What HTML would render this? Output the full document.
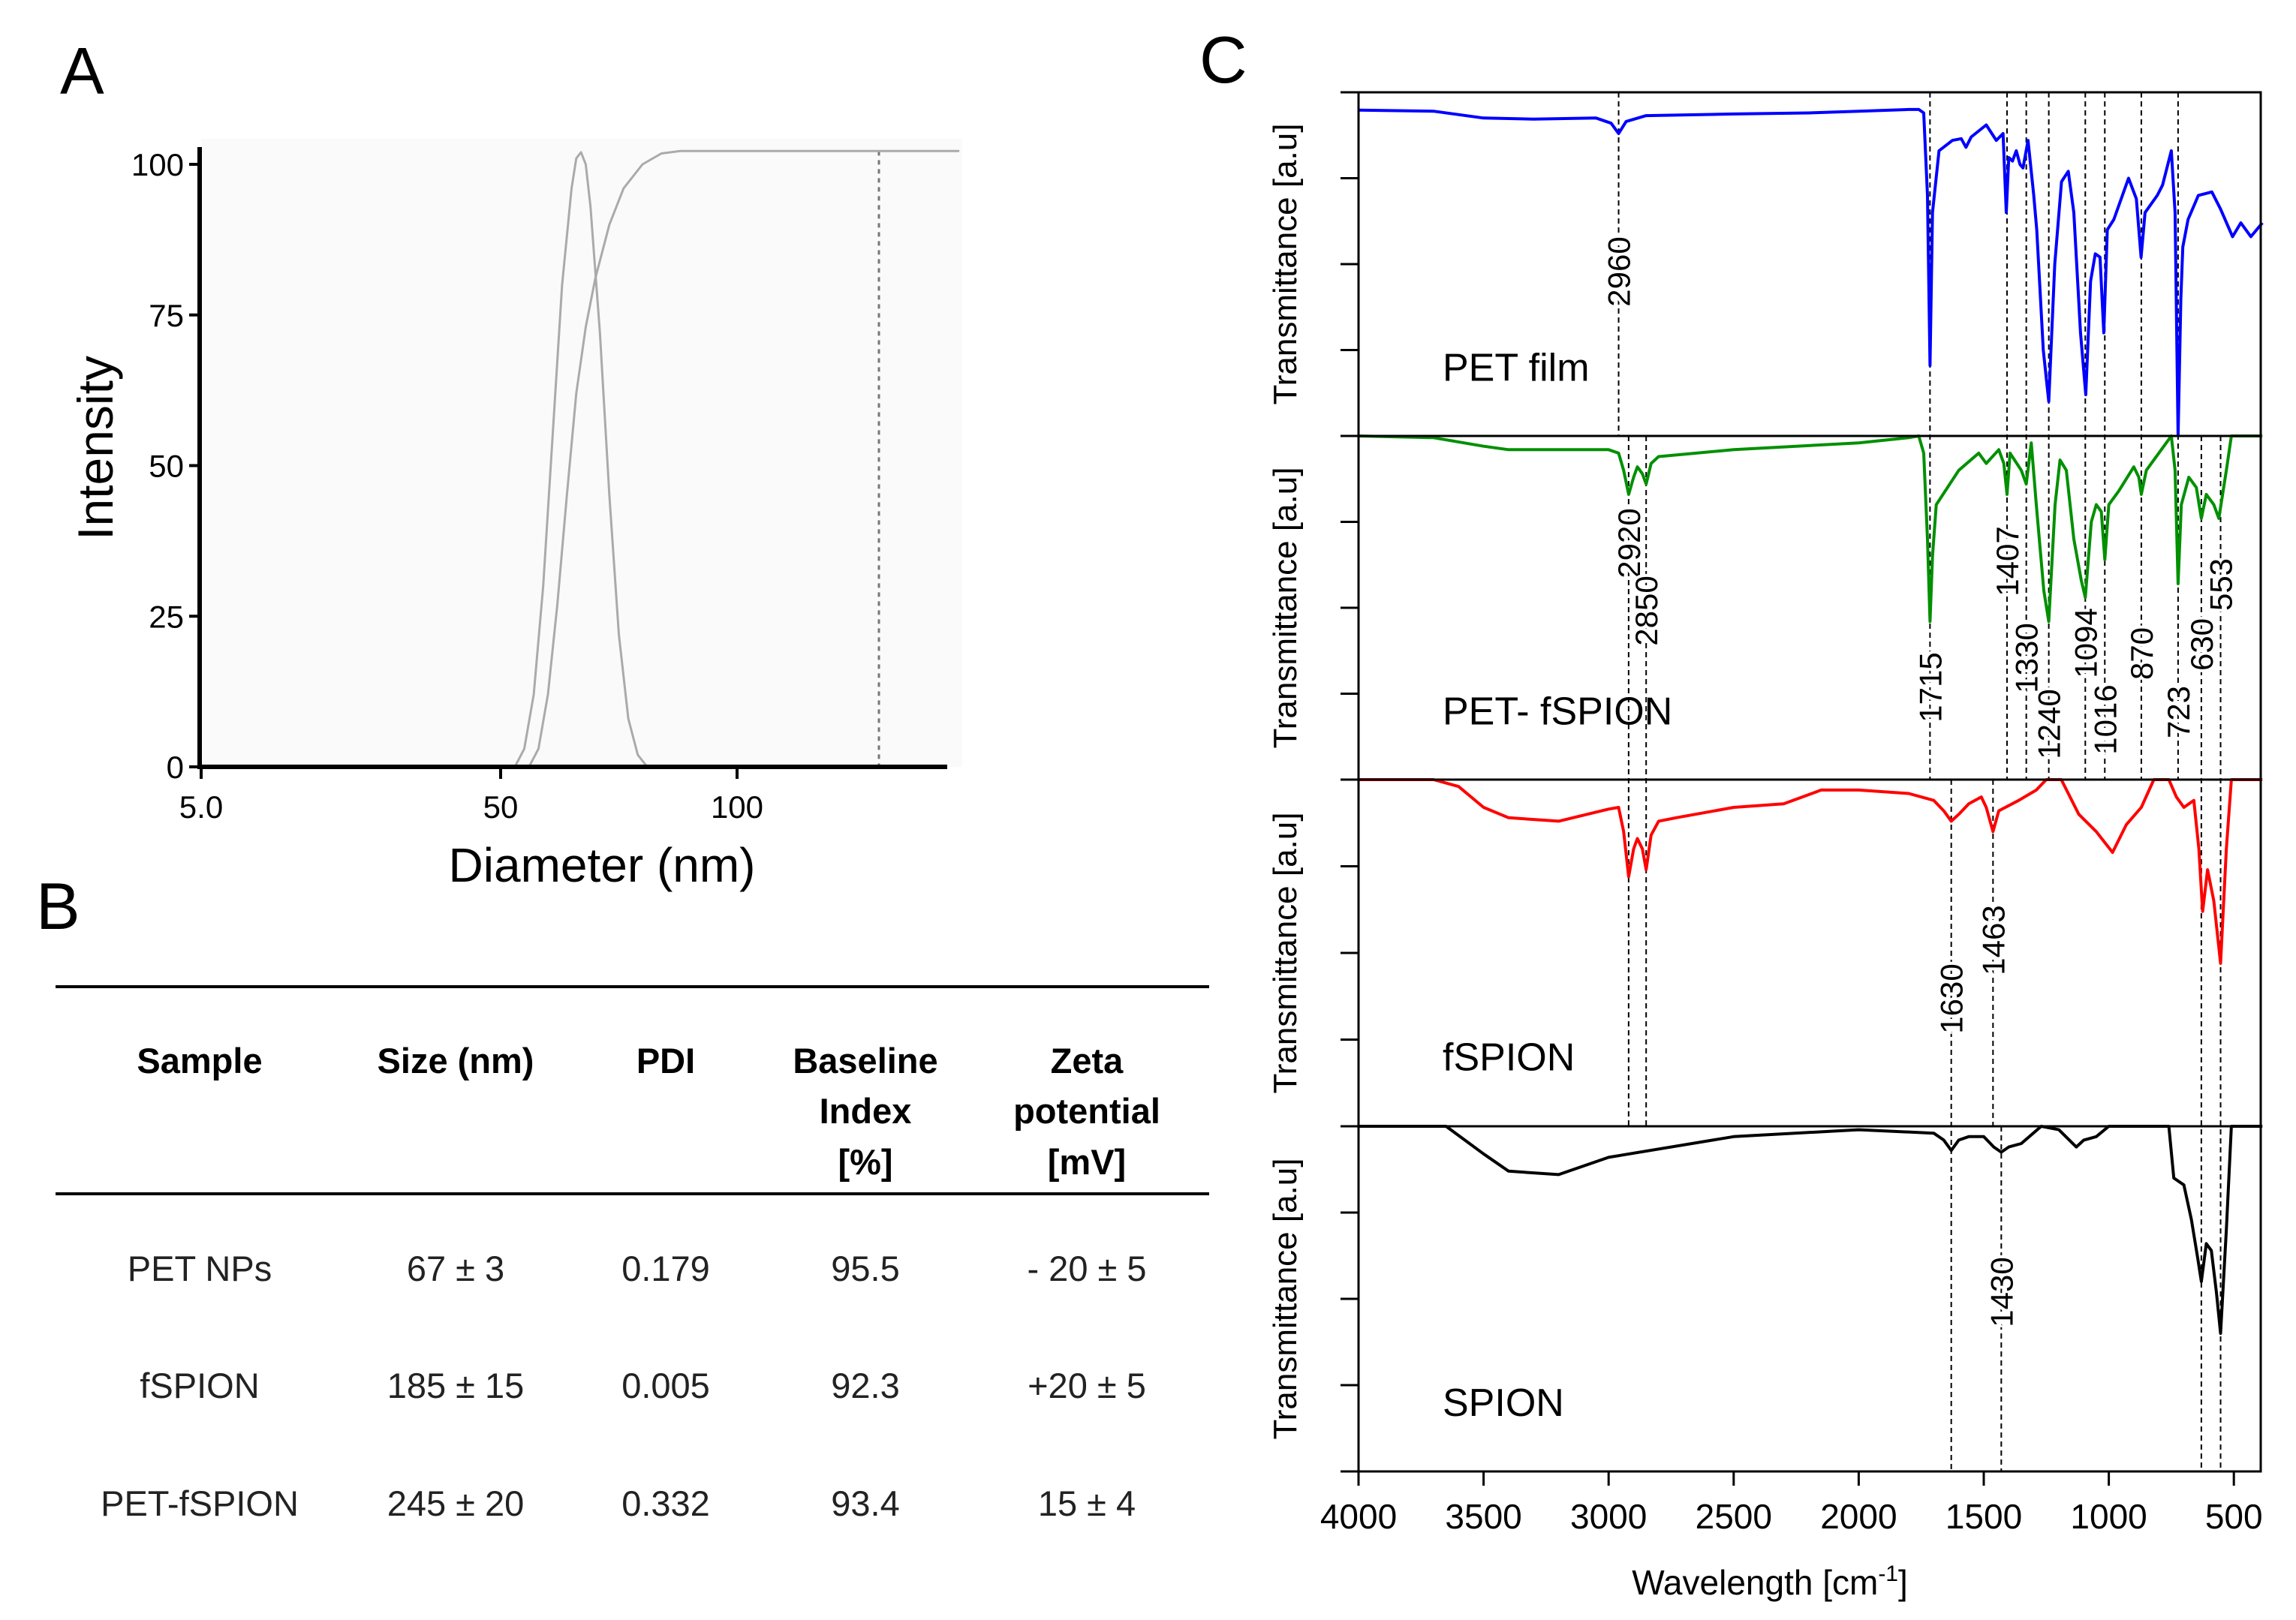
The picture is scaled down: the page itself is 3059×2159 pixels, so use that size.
<!DOCTYPE html>
<html><head><meta charset="utf-8"><style>
html,body{margin:0;padding:0;background:#fff}
svg{display:block}
text{font-family:"Liberation Sans",Arial,sans-serif}
</style></head><body>
<svg id="fig" width="3059" height="2159" viewBox="0 0 3059 2159" xmlns="http://www.w3.org/2000/svg">
<text x="80" y="125" font-size="88">A</text>
<text x="48" y="1238" font-size="88">B</text>
<text x="1598" y="110" font-size="88">C</text>
<g id="gA"></g>
<g id="gB">
<line x1="74" y1="1315" x2="1611" y2="1315" stroke="#000" stroke-width="4"/>
<line x1="74" y1="1591" x2="1611" y2="1591" stroke="#000" stroke-width="4"/>
<g font-size="47" font-weight="bold" text-anchor="middle">
<text x="266" y="1430">Sample</text>
<text x="607" y="1430">Size (nm)</text>
<text x="887" y="1430">PDI</text>
<text x="1153" y="1430">Baseline</text>
<text x="1153" y="1497">Index</text>
<text x="1153" y="1565">[%]</text>
<text x="1448" y="1430">Zeta</text>
<text x="1448" y="1497">potential</text>
<text x="1448" y="1565">[mV]</text>
</g>
<g font-size="47" text-anchor="middle" fill="#222">
<text x="266" y="1707">PET NPs</text>
<text x="607" y="1707">67 ± 3</text>
<text x="887" y="1707">0.179</text>
<text x="1153" y="1707">95.5</text>
<text x="1448" y="1707">- 20 ± 5</text>
<text x="266" y="1863">fSPION</text>
<text x="607" y="1863">185 ± 15</text>
<text x="887" y="1863">0.005</text>
<text x="1153" y="1863">92.3</text>
<text x="1448" y="1863">+20 ± 5</text>
<text x="266" y="2020">PET-fSPION</text>
<text x="607" y="2020">245 ± 20</text>
<text x="887" y="2020">0.332</text>
<text x="1153" y="2020">93.4</text>
<text x="1448" y="2020">15 ± 4</text>
</g>
</g>
<g id="gC"></g>
</svg>
<script>
// ---------- Panel A data ----------
const aTickVals = [5, 50, 100];
const aTickLabels = ["5.0", "50", "100"];
const aYTicks = [0, 25, 50, 75, 100];
const aPeakX = [53, 55, 57, 59, 61, 63, 65, 66, 67, 68, 69, 71, 73, 75, 77, 79, 81];
const aPeakY = [0, 3, 12, 30, 55, 80, 96, 101, 102, 100, 93, 72, 45, 22, 8, 2, 0];
const aCumX = [56, 58, 60, 62, 64, 66, 68, 70, 73, 76, 80, 84, 88, 147];
const aCumY = [0, 3, 12, 27, 45, 62, 73, 81, 90, 96, 100, 101.8, 102.2, 102.2];
const aMarker = 130;

// ---------- Panel C data ----------
const cXTicks = [4000, 3500, 3000, 2500, 2000, 1500, 1000, 500];
const cSamples = ["PET film", "PET- fSPION", "fSPION", "SPION"];
const cColors = ["#0000ff", "#009000", "#ff0000", "#000000"];
const blueW = [4000,3700,3500,3300,3050,2990,2960,2930,2850,2500,2200,2000,1800,1760,1740,1725,1715,1705,1679,1625,1590,1571,1550,1490,1450,1423,1410,1400,1385,1370,1355,1343,1323,1300,1288,1262,1240,1216,1189,1162,1140,1113,1092,1073,1054,1035,1020,1006,980,921,890,871,855,806,785,750,735,723,712,704,683,642,588,553,505,472,432,386];
const blueV = [0.052,0.055,0.075,0.078,0.075,0.09,0.12,0.085,0.068,0.063,0.06,0.055,0.05,0.05,0.06,0.3,0.795,0.35,0.17,0.14,0.135,0.16,0.13,0.095,0.14,0.12,0.35,0.19,0.2,0.17,0.21,0.22,0.14,0.3,0.4,0.75,0.9,0.5,0.26,0.23,0.35,0.7,0.88,0.55,0.47,0.48,0.7,0.4,0.37,0.25,0.31,0.48,0.35,0.3,0.27,0.17,0.35,1.0,0.6,0.45,0.37,0.3,0.29,0.34,0.42,0.38,0.42,0.38];
const greenW = [4000,3700,3500,3400,3000,2960,2940,2920,2900,2885,2865,2850,2830,2800,2500,2000,1800,1760,1740,1725,1715,1705,1690,1600,1520,1490,1440,1420,1407,1395,1350,1330,1310,1290,1260,1240,1215,1195,1170,1140,1110,1094,1070,1050,1030,1016,1000,960,900,880,870,850,780,750,735,723,710,680,650,630,610,580,560,530,510,386];
const greenV = [0,0.005,0.03,0.04,0.04,0.05,0.1,0.17,0.12,0.09,0.11,0.14,0.08,0.06,0.04,0.02,0.005,0,0.05,0.3,0.54,0.35,0.2,0.1,0.05,0.08,0.04,0.08,0.17,0.05,0.1,0.14,0.02,0.2,0.45,0.54,0.2,0.07,0.1,0.3,0.42,0.47,0.25,0.2,0.22,0.36,0.2,0.16,0.09,0.12,0.17,0.1,0.03,0,0.1,0.43,0.2,0.12,0.15,0.24,0.17,0.2,0.24,0.1,0,0];
const redW = [4000,3700,3600,3500,3400,3200,3000,2960,2940,2920,2900,2885,2865,2850,2830,2800,2730,2500,2300,2150,2000,1800,1700,1660,1630,1600,1560,1510,1490,1463,1440,1360,1290,1250,1190,1120,1050,985,930,870,820,760,730,700,660,640,625,605,580,553,530,510,386];
const redV = [0,0,0.02,0.08,0.11,0.12,0.085,0.08,0.15,0.28,0.2,0.17,0.2,0.26,0.16,0.12,0.11,0.08,0.07,0.03,0.03,0.04,0.06,0.09,0.12,0.1,0.07,0.05,0.08,0.15,0.09,0.06,0.03,0,0,0.1,0.15,0.21,0.13,0.08,0,0,0.05,0.08,0.06,0.2,0.38,0.26,0.35,0.53,0.2,0,0];
const blackW = [4000,3650,3500,3400,3200,3000,2500,2000,1700,1660,1630,1600,1560,1500,1460,1430,1400,1350,1270,1200,1130,1100,1050,1000,800,760,740,700,670,645,630,610,590,570,553,530,510,386];
const blackV = [0,0,0.08,0.13,0.14,0.09,0.03,0.01,0.02,0.04,0.07,0.04,0.03,0.03,0.06,0.075,0.06,0.05,0,0.01,0.06,0.04,0.03,0,0,0,0.15,0.17,0.27,0.38,0.45,0.34,0.36,0.48,0.6,0.3,0,0];
const cSeriesW = [blueW, greenW, redW, blackW];
const cSeriesV = [blueV, greenV, redV, blackV];
const peakWn = [2960,1715,1407,1330,1240,1094,1016,870,723,2920,2850,630,553,1630,1463,1430];
const peakLabels = ["2960","1715","1407","1330","1240","1094","1016","870","723","2920","2850","630","553","1630","1463","1430"];
const peakFirstPanel = [0,0,0,0,0,0,0,0,0,1,1,1,1,2,2,3];
const peakLastPanel = [0,1,1,1,1,1,1,1,1,2,2,3,3,3,2,3];
const peakLabelY = [362,916,748,877,965,857,959,871,949,724,814,859,779,1331,1253,1722];

const NS = "http://www.w3.org/2000/svg";
function mk(parent, tag, attrs, txt) {
  const e = document.createElementNS(NS, tag);
  for (const k in attrs) e.setAttribute(k, attrs[k]);
  if (txt !== undefined) e.textContent = txt;
  parent.appendChild(e);
  return e;
}

// ----- Panel A -----
const gA = document.getElementById('gA');
const aTickPx = [268, 667, 982];
function xA(v) {
  for (let i = 0; i < aTickVals.length - 1; i++) {
    if (v <= aTickVals[i + 1] || i === aTickVals.length - 2) {
      const t = (v - aTickVals[i]) / (aTickVals[i + 1] - aTickVals[i]);
      return aTickPx[i] + t * (aTickPx[i + 1] - aTickPx[i]);
    }
  }
}
function yA(v) { return 1022 - v * (1022 - 219) / 100; }
let el = mk(gA, 'rect', {x: 268, y: 185, width: 1014, height: 837, fill: '#fafafa'});


el = mk(gA, 'line', {x1: xA(aMarker), y1: yA(102.2), x2: xA(aMarker), y2: 1022, stroke: '#777', 'stroke-width': 3, 'stroke-dasharray': '6,6'});


let d = aPeakX.map((x, i) => (i ? 'L' : 'M') + xA(x).toFixed(1) + ',' + yA(aPeakY[i]).toFixed(1)).join('');
el = mk(gA, 'path', {d: d, fill: 'none', stroke: '#aaa', 'stroke-width': 3, 'stroke-linejoin': 'round'});


d = aCumX.map((x, i) => (i ? 'L' : 'M') + xA(x).toFixed(1) + ',' + yA(aCumY[i]).toFixed(1)).join('');
el = mk(gA, 'path', {d: d, fill: 'none', stroke: '#aaa', 'stroke-width': 3, 'stroke-linejoin': 'round'});


el = mk(gA, 'line', {x1: 266, y1: 196, x2: 266, y2: 1025, stroke: '#000', 'stroke-width': 6});


el = mk(gA, 'line', {x1: 263, y1: 1022, x2: 1262, y2: 1022, stroke: '#000', 'stroke-width': 6});


aYTicks.forEach(v => {
  const t = mk(gA, 'line', {x1: 252, y1: yA(v), x2: 266, y2: yA(v), stroke: '#000', 'stroke-width': 4});
  
  
  const l = mk(gA, 'text', {x: 245, y: yA(v) + 15, 'font-size': 42, 'text-anchor': 'end'}, String(v));
  
  
});
aTickVals.forEach((v, i) => {
  const t = mk(gA, 'line', {x1: xA(v), y1: 1022, x2: xA(v), y2: 1038, stroke: '#000', 'stroke-width': 4});
  
  
  const l = mk(gA, 'text', {x: xA(v), y: 1090, 'font-size': 42, 'text-anchor': 'middle'}, aTickLabels[i]);
  
  
});
el = mk(gA, 'text', {x: 802, y: 1175, 'font-size': 64, 'text-anchor': 'middle'}, 'Diameter (nm)');


el = mk(gA, 'text', {x: 0, y: 0, 'font-size': 66, 'text-anchor': 'middle', transform: 'translate(150,597) rotate(-90)'}, 'Intensity');



// ----- Panel C -----
const gC = document.getElementById('gC');
const cLeft = 1810, cRight = 3012;
const pTop = [123, 581, 1039, 1501], pBot = [581, 1039, 1501, 1961];
function xC(w) { return cLeft + (4000 - w) * (166.6 / 500); }
function yC(p, v) { return pTop[p] + v * (pBot[p] - pTop[p]); }
peakWn.forEach((w, i) => {
  const ln = mk(gC, 'line', {x1: xC(w), y1: pTop[peakFirstPanel[i]], x2: xC(w), y2: pBot[peakLastPanel[i]], stroke: '#000', 'stroke-width': 2, 'stroke-dasharray': '7,5'});
  
  
});
cSeriesW.forEach((ws, p) => {
  const vs = cSeriesV[p];
  const dd = ws.map((w, i) => (i ? 'L' : 'M') + xC(w).toFixed(1) + ',' + yC(p, vs[i]).toFixed(1)).join('');
  const s = mk(gC, 'path', {d: dd, fill: 'none', stroke: cColors[p], 'stroke-width': 4, 'stroke-linejoin': 'round'});
  
  
  const lb = mk(gC, 'text', {x: 1922, y: yC(p, 0.8) + 18, 'font-size': 52}, cSamples[p]);
  
  
  const yt = mk(gC, 'text', {x: 0, y: 0, 'font-size': 44, 'text-anchor': 'middle', transform: 'translate(1727,' + ((pTop[p] + pBot[p]) / 2) + ') rotate(-90)'}, 'Transmittance [a.u]');
  
  
  for (let k = 0; k <= 4; k++) {
    const ty = pTop[p] + k * (pBot[p] - pTop[p]) / 4;
    const tk = mk(gC, 'line', {x1: 1786, y1: ty, x2: cLeft, y2: ty, stroke: '#000', 'stroke-width': 3});
    
    
  }
  if (p > 0) {
    const sep = mk(gC, 'line', {x1: cLeft, y1: pTop[p], x2: cRight, y2: pTop[p], stroke: '#000', 'stroke-width': 3});
    
    
  }
});
peakWn.forEach((w, i) => {
  const t = mk(gC, 'text', {x: 0, y: 0, 'font-size': 42, 'text-anchor': 'middle', stroke: '#fff', 'stroke-width': 8, 'paint-order': 'stroke', transform: 'translate(' + (xC(w) + 15) + ',' + peakLabelY[i] + ') rotate(-90)'}, peakLabels[i]);
  
  
});
el = mk(gC, 'rect', {x: cLeft, y: 123, width: cRight - cLeft, height: 1961 - 123, fill: 'none', stroke: '#000', 'stroke-width': 3});


cXTicks.forEach(w => {
  const t = mk(gC, 'line', {x1: xC(w), y1: 1961, x2: xC(w), y2: 1980, stroke: '#000', 'stroke-width': 3});
  
  
  const l = mk(gC, 'text', {x: xC(w), y: 2037, 'font-size': 46, 'text-anchor': 'middle'}, String(w));
  
  
});
el = mk(gC, 'text', {x: 2358, y: 2125, 'font-size': 46, 'text-anchor': 'middle'}, 'Wavelength [cm');


const ts = mk(el, 'tspan', {dy: -18, 'font-size': 30}, '-1');


const ts2 = mk(el, 'tspan', {dy: 18}, ']');


</script>
</body></html>
